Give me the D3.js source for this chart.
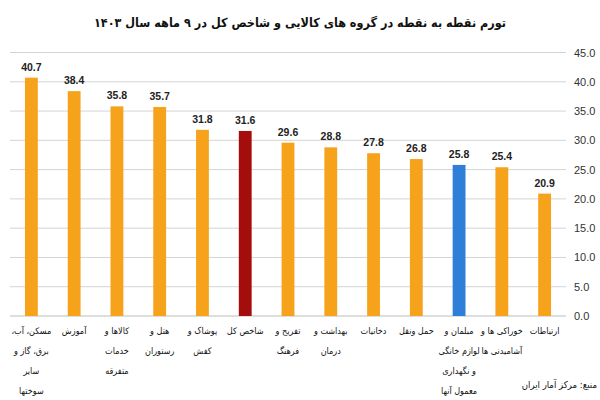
<!DOCTYPE html>
<html><head><meta charset="utf-8">
<script src="https://cdn.jsdelivr.net/npm/d3@7"></script>
<style>body{margin:0;background:#fff}svg{display:block}</style>
</head><body>
<svg id="c" width="600" height="400"></svg>
<script>
const categories = [
  "مسکن، آب،|برق، گاز و|سایر|سوختها",
  "آموزش",
  "کالاها و|خدمات|متفرقه",
  "هتل و|رستوران",
  "پوشاک و|کفش",
  "شاخص کل",
  "تفریح و|فرهنگ",
  "بهداشت و|درمان",
  "دخانیات",
  "حمل ونقل",
  "مبلمان و|لوازم خانگی|و نگهداری|معمول آنها",
  "خوراکی ها و|آشامیدنی ها",
  "ارتباطات"
];
const values = [40.7, 38.4, 35.8, 35.7, 31.8, 31.6, 29.6, 28.8, 27.8, 26.8, 25.8, 25.4, 20.9];
const barColors = ["#F6A21B","#F6A21B","#F6A21B","#F6A21B","#F6A21B","#A50C0C","#F6A21B","#F6A21B","#F6A21B","#F6A21B","#2F7FD9","#F6A21B","#F6A21B"];
const yTicks = [0, 5, 10, 15, 20, 25, 30, 35, 40, 45];
const title = "تورم نقطه به نقطه در گروه های کالایی و شاخص کل در ۹ ماهه سال ۱۴۰۳";
const source = "منبع: مرکز آمار ایران";

const svg = d3.select("#c");
const x = d3.scaleBand().domain(d3.range(categories.length)).range([10, 566]).paddingInner(0.7).paddingOuter(0.35);
const y = d3.scaleLinear().domain([0, 45]).range([316, 52.5]);

// gridlines
const yAxis = d3.axisRight(y).tickValues(yTicks).tickFormat(d3.format(".1f")).tickSize(0).tickPadding(0);
svg.append("g").selectAll("line").data(yTicks).join("line")
  .attr("x1", 10).attr("x2", 566).attr("y1", d => y(d)).attr("y2", d => y(d))
  .attr("stroke", d => d === 0 ? "#bdbdbd" : "#d4d4d4").attr("stroke-width", 1);
const ga = svg.append("g").attr("transform", "translate(574,0)").call(yAxis);
ga.select(".domain").remove();
ga.selectAll("text").attr("font-family", "Liberation Sans, Arial, sans-serif").attr("font-size", 11).attr("fill", "#333");

// bars
svg.append("g").selectAll("rect").data(values).join("rect")
  .attr("x", (d, i) => x(i)).attr("width", x.bandwidth())
  .attr("y", d => y(d)).attr("height", d => y(0) - y(d))
  .attr("fill", (d, i) => barColors[i]);

// value labels
svg.append("g").selectAll("text").data(values).join("text")
  .attr("x", (d, i) => x(i) + x.bandwidth() / 2).attr("y", d => y(d) - 7)
  .attr("text-anchor", "middle").attr("font-family", "Liberation Sans, Arial, sans-serif")
  .attr("font-weight", "bold").attr("font-size", 10.5).attr("fill", "#222")
  .text(d => d3.format(".1f")(d));

// category labels
const cl = svg.append("g").selectAll("text").data(categories).join("text")
  .attr("x", (d, i) => x(i) + x.bandwidth() / 2).attr("y", 334)
  .attr("text-anchor", "middle").attr("direction", "rtl")
  .attr("font-family", "DejaVu Sans Condensed, DejaVu Sans, sans-serif").attr("font-size", 9).attr("fill", "#111");
cl.each(function(d, i) {
  const t = d3.select(this);
  d.split("|").forEach((line, k) => {
    t.append("tspan").attr("x", x(i) + x.bandwidth() / 2).attr("dy", k === 0 ? 0 : 20).text(line);
  });
});

// title
svg.append("text").attr("x", 300).attr("y", 27).attr("text-anchor", "middle").attr("direction", "rtl")
  .attr("font-family", "DejaVu Sans Condensed, DejaVu Sans, sans-serif").attr("font-weight", "bold").attr("font-size", 12.5).attr("fill", "#111")
  .text(title);

// source
svg.append("text").attr("x", 597).attr("y", 388).attr("text-anchor", "start").attr("direction", "rtl")
  .attr("font-family", "DejaVu Sans Condensed, DejaVu Sans, sans-serif").attr("font-size", 9.5).attr("fill", "#111")
  .text(source);
</script>
</body></html>
